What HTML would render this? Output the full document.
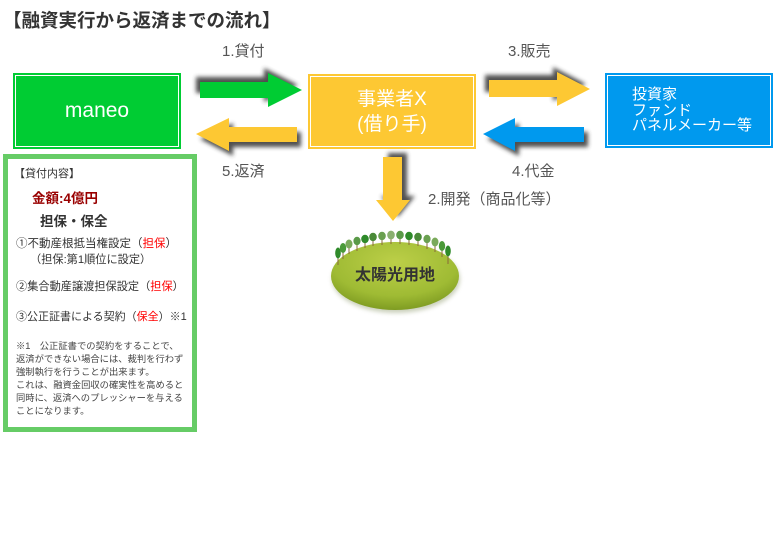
<!DOCTYPE html>
<html><head><meta charset="utf-8"><style>
html,body{margin:0;padding:0;background:#fff;}
body{width:780px;height:550px;position:relative;overflow:hidden;font-family:"Liberation Sans","Noto Sans CJK JP",sans-serif;}
.t{position:absolute;white-space:nowrap;}
.box{position:absolute;}
.box .in{position:absolute;left:2px;top:2px;right:2px;bottom:2px;border:1px solid #fff;}
.red{color:#ff0000;}
</style></head><body>

<div class="t" style="left:3px;top:11px;font-size:18.5px;line-height:20px;font-weight:bold;color:#333;">【融資実行から返済までの流れ】</div>

<svg width="780" height="550" style="position:absolute;left:0;top:0;">
<defs>
<filter id="sh" x="-30%" y="-50%" width="160%" height="200%"><feGaussianBlur stdDeviation="2"/></filter>
<radialGradient id="eg" cx="50%" cy="30%" r="70%">
<stop offset="0" stop-color="#bccf48"/><stop offset="0.7" stop-color="#9fbb34"/><stop offset="1" stop-color="#7f9c22"/>
</radialGradient>
<filter id="es" x="-20%" y="-20%" width="140%" height="160%"><feGaussianBlur stdDeviation="2"/></filter>
</defs>
<!-- arrow 1 green right -->
<polygon points="196,77 264,77 264,68 298,85 264,102 264,93 196,93" fill="#333" opacity="0.85" filter="url(#sh)"/>
<polygon points="200,82 268,82 268,73 302,90 268,107 268,98 200,98" fill="#00cc33"/>
<!-- arrow 5 yellow left -->
<polygon points="200,139 233,123 233,132 301,132 301,147 233,147 233,156" fill="#333" opacity="0.85" filter="url(#sh)"/>
<polygon points="196,134 229,118 229,127 297,127 297,142 229,142 229,151" fill="#fdc833"/>
<!-- arrow 3 yellow right -->
<polygon points="485,75 553,75 553,67 586,84 553,101 553,92 485,92" fill="#333" opacity="0.85" filter="url(#sh)"/>
<polygon points="489,80 557,80 557,72 590,89 557,106 557,97 489,97" fill="#fdc833"/>
<!-- arrow 4 blue left -->
<polygon points="487,139 519,123 519,132 588,132 588,147 519,147 519,156" fill="#333" opacity="0.85" filter="url(#sh)"/>
<polygon points="483,134 515,118 515,127 584,127 584,142 515,142 515,151" fill="#0099ee"/>
<!-- arrow 2 down -->
<polygon points="388,153 407,153 407,196 415,196 398,217 381,196 388,196" fill="#333" opacity="0.85" filter="url(#sh)"/>
<polygon points="383,157 402,157 402,200 410,200 393,221 376,200 383,200" fill="#fdc833"/>
<!-- ellipse -->
<ellipse cx="396" cy="279" rx="64" ry="34" fill="#6a7a40" opacity="0.35" filter="url(#es)"/>
<ellipse cx="395" cy="276" rx="64" ry="34" fill="url(#eg)"/>
<g>
<line x1="338" y1="258" x2="338" y2="265" stroke="#8a6a3a" stroke-width="1"/><ellipse cx="338" cy="253" rx="2.8" ry="5.5" fill="#2f8a2a"/>
<line x1="343" y1="252" x2="343" y2="259" stroke="#8a6a3a" stroke-width="1"/><ellipse cx="343" cy="248" rx="3.2" ry="5" fill="#4a9a38"/>
<line x1="349" y1="248" x2="349" y2="254" stroke="#8a6a3a" stroke-width="1"/><ellipse cx="349" cy="244" rx="3.5" ry="4.5" fill="#7aaa5a"/>
<line x1="357" y1="245" x2="357" y2="251" stroke="#8a6a3a" stroke-width="1"/><ellipse cx="357" cy="241" rx="3.6" ry="4.2" fill="#5a9a48"/>
<line x1="365" y1="242" x2="365" y2="248" stroke="#8a6a3a" stroke-width="1"/><ellipse cx="365" cy="239" rx="3.8" ry="4.2" fill="#2f8a2a"/>
<line x1="373" y1="241" x2="373" y2="246" stroke="#8a6a3a" stroke-width="1"/><ellipse cx="373" cy="237" rx="3.8" ry="4.2" fill="#4a8a38"/>
<line x1="382" y1="240" x2="382" y2="245" stroke="#8a6a3a" stroke-width="1"/><ellipse cx="382" cy="236" rx="3.8" ry="4.2" fill="#6aa050"/>
<line x1="391" y1="239" x2="391" y2="244" stroke="#8a6a3a" stroke-width="1"/><ellipse cx="391" cy="235" rx="3.8" ry="4.4" fill="#8ab070"/>
<line x1="400" y1="239" x2="400" y2="244" stroke="#8a6a3a" stroke-width="1"/><ellipse cx="400" cy="235" rx="3.8" ry="4.2" fill="#5a9a48"/>
<line x1="409" y1="240" x2="409" y2="245" stroke="#8a6a3a" stroke-width="1"/><ellipse cx="409" cy="236" rx="3.8" ry="4.2" fill="#2f8a2a"/>
<line x1="418" y1="241" x2="418" y2="246" stroke="#8a6a3a" stroke-width="1"/><ellipse cx="418" cy="237" rx="3.8" ry="4.2" fill="#4a8a38"/>
<line x1="427" y1="243" x2="427" y2="249" stroke="#8a6a3a" stroke-width="1"/><ellipse cx="427" cy="239" rx="3.6" ry="4.2" fill="#6aa050"/>
<line x1="435" y1="246" x2="435" y2="252" stroke="#8a6a3a" stroke-width="1"/><ellipse cx="435" cy="242" rx="3.5" ry="4.5" fill="#7aaa5a"/>
<line x1="442" y1="250" x2="442" y2="257" stroke="#8a6a3a" stroke-width="1"/><ellipse cx="442" cy="246" rx="3.2" ry="5" fill="#4a9a38"/>
<line x1="448" y1="256" x2="448" y2="264" stroke="#8a6a3a" stroke-width="1"/><ellipse cx="448" cy="251" rx="2.8" ry="5.5" fill="#2f8a2a"/>
</g>
</svg>

<!-- boxes -->
<div class="box" style="left:13px;top:73px;width:168px;height:76px;background:#00cc33;"><div class="in"></div></div>
<div class="box" style="left:308px;top:74px;width:168px;height:75px;background:#fdc833;"><div class="in"></div></div>
<div class="box" style="left:605px;top:73px;width:168px;height:75px;background:#0099ee;"><div class="in"></div></div>

<div class="t" style="left:13px;width:168px;text-align:center;top:99px;font-size:21px;line-height:24px;color:#fff;">maneo</div>
<div class="t" style="left:308px;width:168px;text-align:center;top:89px;font-size:19px;line-height:21px;color:#fff;">事業者X</div>
<div class="t" style="left:308px;width:168px;text-align:center;top:114px;font-size:19px;line-height:21px;color:#fff;">(借り手)</div>
<div class="t" style="left:632px;top:87px;font-size:15px;line-height:15.5px;color:#fff;">投資家<br>ファンド<br>パネルメーカー等</div>

<!-- arrow labels -->
<div class="t" style="left:222px;top:43px;font-size:15px;line-height:17px;color:#555;">1.貸付</div>
<div class="t" style="left:508px;top:43px;font-size:15px;line-height:17px;color:#555;">3.販売</div>
<div class="t" style="left:222px;top:163px;font-size:15px;line-height:17px;color:#555;">5.返済</div>
<div class="t" style="left:512px;top:163px;font-size:15px;line-height:17px;color:#555;">4.代金</div>
<div class="t" style="left:428px;top:191px;font-size:15px;line-height:17px;color:#555;">2.開発（商品化等）</div>

<div class="t" style="left:331px;width:128px;text-align:center;top:267px;font-size:16px;line-height:18px;font-weight:bold;color:#333;">太陽光用地</div>

<!-- panel -->
<div class="box" style="left:3px;top:154px;width:184px;height:268px;border:5px solid #66cc66;background:#fff;"></div>
<div class="t" style="left:14px;top:168px;font-size:11px;line-height:12px;color:#333;">【貸付内容】</div>
<div class="t" style="left:32px;top:191px;font-size:13.5px;line-height:15px;font-weight:bold;color:#990000;">金額:4億円</div>
<div class="t" style="left:40px;top:214px;font-size:13.5px;line-height:16px;font-weight:bold;color:#333;">担保・保全</div>
<div class="t" style="left:16px;top:238px;font-size:11.5px;line-height:12px;color:#333;">①不動産根抵当権設定（<span class="red">担保</span>）</div>
<div class="t" style="left:30px;top:254px;font-size:11.2px;line-height:12px;color:#333;">（担保:第1順位に設定）</div>
<div class="t" style="left:16px;top:281px;font-size:11.2px;line-height:12px;color:#333;">②集合動産譲渡担保設定（<span class="red">担保</span>）</div>
<div class="t" style="left:16px;top:311px;font-size:11px;line-height:12px;color:#333;">③公正証書による契約（<span class="red">保全</span>）※1</div>
<div class="t" style="left:16px;top:340px;font-size:9.3px;line-height:13px;color:#444;">※1　公正証書での契約をすることで、<br>返済ができない場合には、裁判を行わず<br>強制執行を行うことが出来ます。<br>これは、融資金回収の確実性を高めると<br>同時に、返済へのプレッシャーを与える<br>ことになります。</div>

</body></html>
